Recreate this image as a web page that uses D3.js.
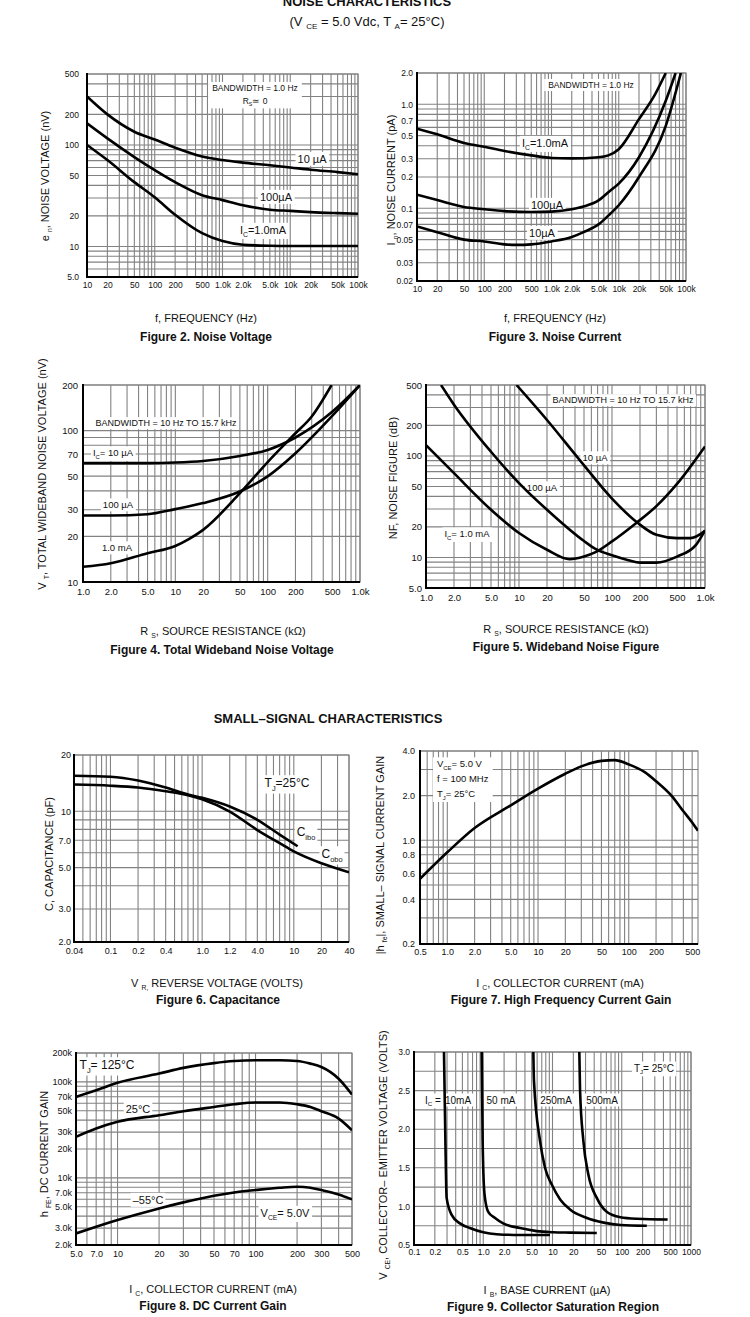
<!DOCTYPE html>
<html>
<head>
<meta charset="utf-8">
<script src="https://cdn.jsdelivr.net/npm/d3@7"></script>
<style>
  body { margin: 0; background: #fff; }
  svg { display: block; }
  text { font-family: "Liberation Sans", Arial, Helvetica, sans-serif; fill: #111; }
</style>
</head>
<body>
<svg id="page" width="750" height="1317"></svg>
<script>
// ---------- shared tick labels ----------
var freqTicks = [10, 20, 50, 100, 200, 500, 1000, 2000, 5000, 10000, 20000, 50000, 100000]
var freqLabels = ["10", "20", "50", "100", "200", "500", "1.0k", "2.0k", "5.0k", "10k", "20k", "50k", "100k"]
var rsTicks = [1, 2, 5, 10, 20, 50, 100, 200, 500, 1000]
var rsLabels = ["1.0", "2.0", "5.0", "10", "20", "50", "100", "200", "500", "1.0k"]

// ---------- Figure 2: noise voltage ----------
var fig2Freq = [10, 20, 50, 100, 200, 500, 1000, 2000, 5000, 10000, 20000, 50000, 100000]
var fig2En10uA = [300, 200, 135, 113, 94, 77, 71, 67, 63, 60, 57, 54, 51.5]
var fig2En100uA = [163, 116, 76, 56.5, 43, 32, 28.6, 25.5, 23, 22.4, 21.8, 21.3, 21]
var fig2En1mA = [100, 71, 43, 30.5, 20.5, 13.5, 11.3, 10.4, 10.15, 10.1, 10.1, 10.1, 10.1]
var fig2YTicks = [500, 200, 100, 50, 20, 10, 5]
var fig2YLabels = ["500", "200", "100", "50", "20", "10", "5.0"]

// ---------- Figure 3: noise current ----------
var fig3Freq1mA = [10, 20, 50, 100, 200, 500, 1000, 2000, 5000, 7000, 10000, 20000, 35000, 50000]
var fig3In1mA = [0.583, 0.514, 0.425, 0.39, 0.356, 0.323, 0.305, 0.302, 0.31, 0.323, 0.37, 0.72, 1.26, 2.0]
var fig3Freq100uA = [10, 20, 50, 100, 200, 500, 1000, 2000, 3000, 5000, 7000, 10000, 20000, 50000, 70000]
var fig3In100uA = [0.135, 0.12, 0.103, 0.098, 0.094, 0.092, 0.093, 0.098, 0.104, 0.119, 0.143, 0.173, 0.31, 1.08, 2.0]
var fig3Freq10uA = [10, 20, 50, 100, 200, 300, 500, 1000, 2000, 3000, 5000, 7000, 10000, 20000, 50000, 84000]
var fig3In10uA = [0.067, 0.059, 0.05, 0.048, 0.045, 0.0445, 0.045, 0.048, 0.053, 0.059, 0.07, 0.085, 0.107, 0.2, 0.62, 2.0]
var fig3YTicks = [2, 1, 0.7, 0.5, 0.3, 0.2, 0.1, 0.07, 0.05, 0.03, 0.02]
var fig3YLabels = ["2.0", "1.0", "0.7", "0.5", "0.3", "0.2", "0.1", "0.07", "0.05", "0.03", "0.02"]

// ---------- Figure 4: total wideband noise voltage ----------
var fig4Rs = [1, 2, 5, 10, 20, 50, 100, 200, 500, 1000]
var fig4Vt10uA = [61, 61, 61, 61.5, 63, 68, 74.5, 90, 133, 200]
var fig4Vt100uA = [27.5, 27.5, 28, 30.3, 33.2, 39.6, 49.8, 70.8, 125, 200]
var fig4Rs1mA = [1, 2, 5, 10, 14, 20, 50, 100, 200, 300, 492]
var fig4Vt1mA = [12.6, 13.3, 15.5, 17.3, 19.2, 22.1, 38.6, 62, 96, 124, 200]
var fig4YTicks = [200, 100, 70, 50, 30, 20, 10]
var fig4YLabels = ["200", "100", "70", "50", "30", "20", "10"]

// ---------- Figure 5: wideband noise figure ----------
var fig5Rs10uA = [9.4, 20, 45, 100, 190, 300, 500, 700, 1000]
var fig5Nf10uA = [500, 226, 91, 38, 21.8, 16.7, 15.5, 15.5, 18.3]
var fig5Rs100uA = [1.45, 2, 5, 10, 20, 50, 65.6, 100, 150, 200, 300, 500, 800, 1000]
var fig5Nf100uA = [500, 320, 110, 54, 29.5, 14.5, 12.2, 10.5, 9.4, 8.9, 8.9, 10.2, 13.3, 18.5]
var fig5Rs1mA = [1, 2, 5, 10, 20, 35, 50, 65.6, 100, 184, 300, 500, 1000]
var fig5Nf1mA = [128, 67.6, 29.5, 17.4, 11.9, 9.6, 10.2, 11.2, 14.4, 22, 32, 53, 124]
var fig5YTicks = [500, 200, 100, 50, 20, 10, 5]
var fig5YLabels = ["500", "200", "100", "50", "20", "10", "5.0"]

// ---------- Figure 6: capacitance ----------
var fig6VrIbo = [0.04, 0.1, 0.2, 0.4, 0.7, 1.0, 2, 4, 7, 11]
var fig6Cibo = [15.5, 15.3, 14.6, 13.4, 12.3, 11.8, 10.6, 9.0, 7.5, 6.5]
var fig6VrObo = [0.04, 0.1, 0.2, 0.4, 0.7, 1.0, 2, 4, 7, 10, 20, 40]
var fig6Cobo = [13.9, 13.7, 13.4, 12.8, 12.2, 11.6, 9.96, 7.94, 6.75, 6.1, 5.27, 4.72]
var fig6XTicks = [0.04, 0.1, 0.2, 0.4, 1, 2, 4, 10, 20, 40]
var fig6XLabels = ["0.04", "0.1", "0.2", "0.4", "1.0", "1.2", "4.0", "10", "20", "40"]
var fig6YTicks = [20, 10, 7, 5, 3, 2]
var fig6YLabels = ["20", "10", "7.0", "5.0", "3.0", "2.0"]

// ---------- Figure 7: high frequency current gain ----------
var fig7Ic = [0.5, 1, 2, 5, 10, 20, 30, 50, 70, 100, 150, 200, 300, 400, 500, 580]
var fig7Hfe = [0.55, 0.83, 1.21, 1.72, 2.23, 2.81, 3.15, 3.43, 3.47, 3.25, 2.88, 2.5, 1.98, 1.57, 1.32, 1.16]
var fig7XTicks = [0.5, 1, 2, 5, 10, 20, 50, 100, 200, 500]
var fig7XLabels = ["0.5", "1.0", "2.0", "5.0", "10", "20", "50", "100", "200", "500"]
var fig7YTicks = [4, 2, 1, 0.8, 0.6, 0.4, 0.2]
var fig7YLabels = ["4.0", "2.0", "1.0", "0.8", "0.6", "0.4", "0.2"]

// ---------- Figure 8: DC current gain ----------
var fig8Ic = [5, 7, 10, 20, 30, 50, 70, 100, 150, 200, 250, 300, 400, 500]
var fig8Hfe125 = [69.7e3, 81.8e3, 98e3, 122e3, 140e3, 157e3, 165e3, 168e3, 168e3, 165e3, 155e3, 143e3, 108e3, 73.8e3]
var fig8Hfe25 = [26.8e3, 32.7e3, 38.4e3, 45e3, 49.5e3, 54.8e3, 58.5e3, 61e3, 61e3, 58.5e3, 54.8e3, 49.5e3, 41.5e3, 31.4e3]
var fig8HfeM55 = [2.64e3, 3.1e3, 3.64e3, 4.81e3, 5.56e3, 6.52e3, 7.06e3, 7.47e3, 7.9e3, 8.09e3, 7.9e3, 7.47e3, 6.73e3, 5.97e3]
var fig8XTicks = [5, 7, 10, 20, 30, 50, 70, 100, 200, 300, 500]
var fig8XLabels = ["5.0", "7.0", "10", "20", "30", "50", "70", "100", "200", "300", "500"]
var fig8YTicks = [200e3, 100e3, 70e3, 50e3, 30e3, 20e3, 10e3, 7e3, 5e3, 3e3, 2e3]
var fig8YLabels = ["200k", "100k", "70k", "50k", "30k", "20k", "10k", "7.0k", "5.0k", "3.0k", "2.0k"]

// ---------- Figure 9: collector saturation region ----------
var fig9Ib10mA = [0.271, 0.284, 0.296, 0.35, 0.46, 0.64, 1.0, 1.56, 3.4, 9.2]
var fig9V10mA = [3.0, 1.85, 1.11, 0.89, 0.78, 0.72, 0.665, 0.64, 0.63, 0.63]
var fig9Ib50mA = [0.95, 0.98, 1.04, 1.18, 1.48, 1.94, 3.4, 5.9, 10.2, 17.9, 43.6]
var fig9V50mA = [3.0, 1.85, 1.17, 0.93, 0.85, 0.78, 0.72, 0.68, 0.665, 0.66, 0.655]
var fig9Ib250mA = [5.29, 5.4, 6.6, 7.8, 9.8, 12.9, 17.9, 31.4, 54.8, 95.7, 230]
var fig9V250mA = [3.0, 2.63, 1.85, 1.5, 1.28, 1.09, 0.96, 0.85, 0.79, 0.76, 0.75]
var fig9Ib500mA = [24.4, 25, 27.9, 33, 43.6, 60.6, 95.7, 166, 460]
var fig9V500mA = [3.0, 2.5, 1.85, 1.41, 1.11, 0.93, 0.86, 0.84, 0.83]
var fig9XTicks = [0.1, 0.2, 0.5, 1, 2, 5, 10, 20, 50, 100, 200, 500, 1000]
var fig9XLabels = ["0.1", "0.2", "0.5", "1.0", "2.0", "5.0", "10", "20", "50", "100", "200", "500", "1000"]
var fig9YTicks = [3.0, 2.5, 2.0, 1.5, 1.0, 0.5]
var fig9YLabels = ["3.0", "2.5", "2.0", "1.5", "1.0", "0.5"]


var svg = d3.select("#page")

// write "V{CE} = 5.0" style strings, the part in braces as a subscript
function rich(t, str, size) {
  var shift = 0
  str.split(/(\{[^}]*\})/).forEach(function(p) {
    if (p === "") return
    var sub = p.charAt(0) === "{"
    var s = t.append("tspan").text(sub ? p.slice(1, -1) : p)
    if (sub) {
      s.attr("font-size", size * 0.62).attr("dy", size * 0.28 - shift)
      shift = size * 0.28
    } else if (shift) {
      s.attr("dy", -shift)
      shift = 0
    }
  })
  return t
}

function addText(parent, str, x, y, o) {
  o = o || {}
  var size = o.size || 11
  var t = parent.append("text")
    .attr("x", x).attr("y", y + size * 0.35)
    .attr("font-size", size)
    .attr("text-anchor", o.anchor || "middle")
    .attr("font-weight", o.bold ? "bold" : null)
  if (o.rotate) t.attr("transform", "rotate(-90," + x + "," + y + ")")
  return rich(t, str, size)
}

// text notes inside a plot, drawn on a white patch that hides the grid
function note(parent, items, size, anchor, pad) {
  var g = parent.append("g")
  items.forEach(function(it) { addText(g, it[0], it[1], it[2], {size: size, anchor: anchor}) })
  var b = g.node().getBBox()
  pad = pad == null ? 2 : pad
  g.insert("rect", ":first-child")
    .attr("x", b.x - pad).attr("y", b.y - 1)
    .attr("width", b.width + 2 * pad).attr("height", b.height + 2)
    .attr("fill", "#fff")
}

function logGrid(dom) {
  var out = []
  var lo = Math.floor(Math.log10(dom[0])), hi = Math.ceil(Math.log10(dom[1]))
  for (var e = lo; e <= hi; e++) {
    for (var m = 1; m < 10; m++) {
      var v = m * Math.pow(10, e)
      if (v >= dom[0] * 0.999 && v <= dom[1] * 1.001) out.push(v)
    }
  }
  return out
}

var chartNo = 0
function drawChart(c) {
  chartNo++
  var g = svg.append("g")
  var x = d3.scaleLog().domain(c.xDomain).range([c.left, c.right])
  var y = (c.yLinear ? d3.scaleLinear() : d3.scaleLog()).domain(c.yDomain).range([c.bottom, c.top])

  var xGrid = logGrid(c.xDomain)
  var yGrid = c.yLinear ? d3.range(c.yDomain[0], c.yDomain[1] + 1e-6, 0.25) : logGrid(c.yDomain)

  var grid = g.append("g").attr("stroke", "#828282").attr("stroke-width", 1.1)
  grid.selectAll(".v").data(xGrid).join("line").attr("class", "v")
    .attr("x1", d => x(d)).attr("x2", d => x(d)).attr("y1", c.top).attr("y2", c.bottom)
  grid.selectAll(".h").data(yGrid).join("line").attr("class", "h")
    .attr("y1", d => y(d)).attr("y2", d => y(d)).attr("x1", c.left).attr("x2", c.right)
  grid.append("rect").attr("x", c.left).attr("y", c.top)
    .attr("width", c.right - c.left).attr("height", c.bottom - c.top).attr("fill", "none")

  // notes
  c.notes.forEach(function(n) { note(g, n.items, n.size, n.anchor, n.pad) })

  // curves
  var clipId = "clip" + chartNo
  g.append("clipPath").attr("id", clipId).append("rect")
    .attr("x", c.left).attr("y", c.top).attr("width", c.right - c.left).attr("height", c.bottom - c.top)
  var line = d3.line().x(d => x(d[0])).y(d => y(d[1])).curve(d3.curveMonotoneX)
  g.append("g").attr("clip-path", "url(#" + clipId + ")")
    .selectAll("path").data(c.series).join("path")
    .attr("d", d => line(d3.zip(d[0], d[1])))
    .attr("fill", "none").attr("stroke", "#000").attr("stroke-width", 2.6)
    .attr("stroke-linejoin", "round")

  // axis lines
  g.append("line").attr("x1", c.left).attr("x2", c.left).attr("y1", c.top - 1).attr("y2", c.bottom + 1)
    .attr("stroke", "#000").attr("stroke-width", 2)
  g.append("line").attr("x1", c.left - 1).attr("x2", c.right).attr("y1", c.bottom).attr("y2", c.bottom)
    .attr("stroke", "#000").attr("stroke-width", 2)

  // tick labels
  var xAxis = d3.axisBottom(x).tickValues(c.xTicks).tickFormat((d, i) => c.xLabels[i]).tickSize(0).tickPadding(c.xPad)
  var yAxis = d3.axisLeft(y).tickValues(c.yTicks).tickFormat((d, i) => c.yLabels[i]).tickSize(0).tickPadding(c.yPad)
  var ax = g.append("g").attr("transform", "translate(0," + c.bottom + ")").call(xAxis)
  var ay = g.append("g").attr("transform", "translate(" + c.left + ",0)").call(yAxis)
  ;[ax, ay].forEach(function(a) {
    a.select(".domain").remove()
    a.attr("font-family", null).attr("font-size", c.tickSize)
    a.selectAll("text").attr("fill", "#000")
  })

  // titles
  addText(svg, c.yTitle[0], c.yTitle[1], c.yTitle[2], {size: 11, rotate: true})
  addText(svg, c.xTitle[0], c.xTitle[1], c.xTitle[2], {size: 11})
  addText(svg, c.caption[0], c.caption[1], c.caption[2], {size: 12, bold: true})
}

// page headings
addText(svg, "NOISE CHARACTERISTICS", 367, 1, {size: 13, bold: true})
addText(svg, "(V {CE} = 5.0 Vdc, T {A}= 25°C)", 367, 21, {size: 13})
addText(svg, "SMALL–SIGNAL CHARACTERISTICS", 328, 718, {size: 13, bold: true})

drawChart({
  left: 87, right: 358, top: 74, bottom: 277,
  xDomain: [10, 100000], yDomain: [5, 500],
  xTicks: freqTicks, xLabels: freqLabels, yTicks: fig2YTicks, yLabels: fig2YLabels,
  tickSize: 8.5, xPad: 5, yPad: 8,
  series: [[fig2Freq, fig2En10uA], [fig2Freq, fig2En100uA], [fig2Freq, fig2En1mA]],
  notes: [
    {items: [["BANDWIDTH = 1.0 Hz", 255, 88], ["R{S}≃ 0", 255, 101]], size: 8.5, pad: 4},
    {items: [["10 µA", 312, 159]], size: 11},
    {items: [["100µA", 276, 197]], size: 11},
    {items: [["I{C}=1.0mA", 263, 230]], size: 11}
  ],
  yTitle: ["e {n}, NOISE VOLTAGE (nV)", 45, 176],
  xTitle: ["f, FREQUENCY (Hz)", 206, 318],
  caption: ["Figure 2. Noise Voltage", 206, 337]
})

drawChart({
  left: 417, right: 686, top: 73, bottom: 281,
  xDomain: [10, 100000], yDomain: [0.02, 2],
  xTicks: freqTicks, xLabels: freqLabels, yTicks: fig3YTicks, yLabels: fig3YLabels,
  tickSize: 8.5, xPad: 5, yPad: 4,
  series: [[fig3Freq1mA, fig3In1mA], [fig3Freq100uA, fig3In100uA], [fig3Freq10uA, fig3In10uA]],
  notes: [
    {items: [["BANDWIDTH = 1.0 Hz", 591, 85]], size: 8.5, pad: 4},
    {items: [["I{C}=1.0mA", 545, 143]], size: 11},
    {items: [["100µA", 547, 205]], size: 11},
    {items: [["10µA", 542, 233]], size: 11}
  ],
  yTitle: ["I {n}, NOISE CURRENT (pA)", 391, 180],
  xTitle: ["f, FREQUENCY (Hz)", 555, 318],
  caption: ["Figure 3. Noise Current", 555, 337]
})

drawChart({
  left: 83, right: 360, top: 385, bottom: 582,
  xDomain: [1, 1000], yDomain: [10, 200],
  xTicks: rsTicks, xLabels: rsLabels, yTicks: fig4YTicks, yLabels: fig4YLabels,
  tickSize: 9.5, xPad: 6, yPad: 5,
  series: [[fig4Rs, fig4Vt10uA], [fig4Rs, fig4Vt100uA], [fig4Rs1mA, fig4Vt1mA]],
  notes: [
    {items: [["BANDWIDTH = 10 Hz TO 15.7 kHz", 166, 423]], size: 9},
    {items: [["I{C}= 10 µA", 113, 453]], size: 9.5},
    {items: [["100 µA", 118, 505]], size: 9.5},
    {items: [["1.0 mA", 117, 548]], size: 9.5}
  ],
  yTitle: ["V {T}, TOTAL WIDEBAND NOISE VOLTAGE (nV)", 42, 474],
  xTitle: ["R {S}, SOURCE RESISTANCE (kΩ)", 223, 631],
  caption: ["Figure 4. Total Wideband Noise Voltage", 222, 650]
})

drawChart({
  left: 426, right: 705, top: 385, bottom: 588,
  xDomain: [1, 1000], yDomain: [5, 500],
  xTicks: rsTicks, xLabels: rsLabels, yTicks: fig5YTicks, yLabels: fig5YLabels,
  tickSize: 9.5, xPad: 6, yPad: 4,
  series: [[fig5Rs10uA, fig5Nf10uA], [fig5Rs100uA, fig5Nf100uA], [fig5Rs1mA, fig5Nf1mA]],
  notes: [
    {items: [["BANDWIDTH = 10 Hz TO 15.7 kHz", 623, 400]], size: 9},
    {items: [["10 µA", 595, 458]], size: 9.5},
    {items: [["100 µA", 542, 488]], size: 9.5},
    {items: [["I{C}= 1.0 mA", 467, 534]], size: 9.5}
  ],
  yTitle: ["NF, NOISE FIGURE (dB)", 393, 478],
  xTitle: ["R {S}, SOURCE RESISTANCE (kΩ)", 566, 629],
  caption: ["Figure 5. Wideband Noise Figure", 566, 647]
})

drawChart({
  left: 74, right: 349, top: 755, bottom: 942,
  xDomain: [0.04, 40], yDomain: [2, 20],
  xTicks: fig6XTicks, xLabels: fig6XLabels, yTicks: fig6YTicks, yLabels: fig6YLabels,
  tickSize: 9, xPad: 6, yPad: 3,
  series: [[fig6VrIbo, fig6Cibo], [fig6VrObo, fig6Cobo]],
  notes: [
    {items: [["T{J}=25°C", 287, 783]], size: 12},
    {items: [["C{ibo}", 306, 832]], size: 12},
    {items: [["C{obo}", 332, 854]], size: 12}
  ],
  yTitle: ["C, CAPACITANCE (pF)", 49, 854],
  xTitle: ["V {R,} REVERSE  VOLTAGE (VOLTS)", 217, 983],
  caption: ["Figure 6. Capacitance", 218, 1000]
})

drawChart({
  left: 420, right: 698, top: 751, bottom: 944,
  xDomain: [0.5, 580], yDomain: [0.2, 4],
  xTicks: fig7XTicks, xLabels: fig7XLabels, yTicks: fig7YTicks, yLabels: fig7YLabels,
  tickSize: 9, xPad: 5, yPad: 5,
  series: [[fig7Ic, fig7Hfe]],
  notes: [
    {items: [["V{CE}= 5.0 V", 437, 764], ["f = 100 MHz", 437, 779], ["T{J}= 25°C", 437, 794]], size: 9.5, anchor: "start", pad: 4}
  ],
  yTitle: ["|h {fe}|, SMALL– SIGNAL CURRENT GAIN", 380, 855],
  xTitle: ["I {C}, COLLECTOR CURRENT (mA)", 560, 983],
  caption: ["Figure 7. High Frequency Current Gain", 561, 1000]
})

drawChart({
  left: 76, right: 352, top: 1053, bottom: 1245,
  xDomain: [5, 500], yDomain: [2000, 200000],
  xTicks: fig8XTicks, xLabels: fig8XLabels, yTicks: fig8YTicks, yLabels: fig8YLabels,
  tickSize: 9, xPad: 6, yPad: 4,
  series: [[fig8Ic, fig8Hfe125], [fig8Ic, fig8Hfe25], [fig8Ic, fig8HfeM55]],
  notes: [
    {items: [["T{J}= 125°C", 107, 1065]], size: 12},
    {items: [["25°C", 138, 1109]], size: 11},
    {items: [["–55°C", 148, 1200]], size: 11},
    {items: [["V{CE}= 5.0V", 285, 1213]], size: 11}
  ],
  yTitle: ["h {FE}, DC CURRENT GAIN", 44, 1154],
  xTitle: ["I {C}, COLLECTOR CURRENT (mA)", 213, 1289],
  caption: ["Figure 8. DC Current Gain", 213, 1306]
})

drawChart({
  left: 414, right: 691, top: 1052, bottom: 1245,
  xDomain: [0.1, 1000], yDomain: [0.5, 3.0], yLinear: true,
  xTicks: fig9XTicks, xLabels: fig9XLabels, yTicks: fig9YTicks, yLabels: fig9YLabels,
  tickSize: 8.5, xPad: 4, yPad: 4,
  series: [[fig9Ib10mA, fig9V10mA], [fig9Ib50mA, fig9V50mA], [fig9Ib250mA, fig9V250mA], [fig9Ib500mA, fig9V500mA]],
  notes: [
    {items: [["I{C}  =", 433, 1100]], size: 10},
    {items: [["10mA", 458, 1100]], size: 10},
    {items: [["50 mA", 501, 1100]], size: 10},
    {items: [["250mA", 556, 1100]], size: 10},
    {items: [["500mA", 602, 1100]], size: 10},
    {items: [["T{J}= 25°C", 654, 1068]], size: 10}
  ],
  yTitle: ["V {CE}, COLLECTOR– EMITTER VOLTAGE (VOLTS)", 383, 1155],
  xTitle: ["I {B}, BASE CURRENT (µA)", 547, 1290],
  caption: ["Figure 9. Collector Saturation Region", 553, 1307]
})
</script>
</body>
</html>
